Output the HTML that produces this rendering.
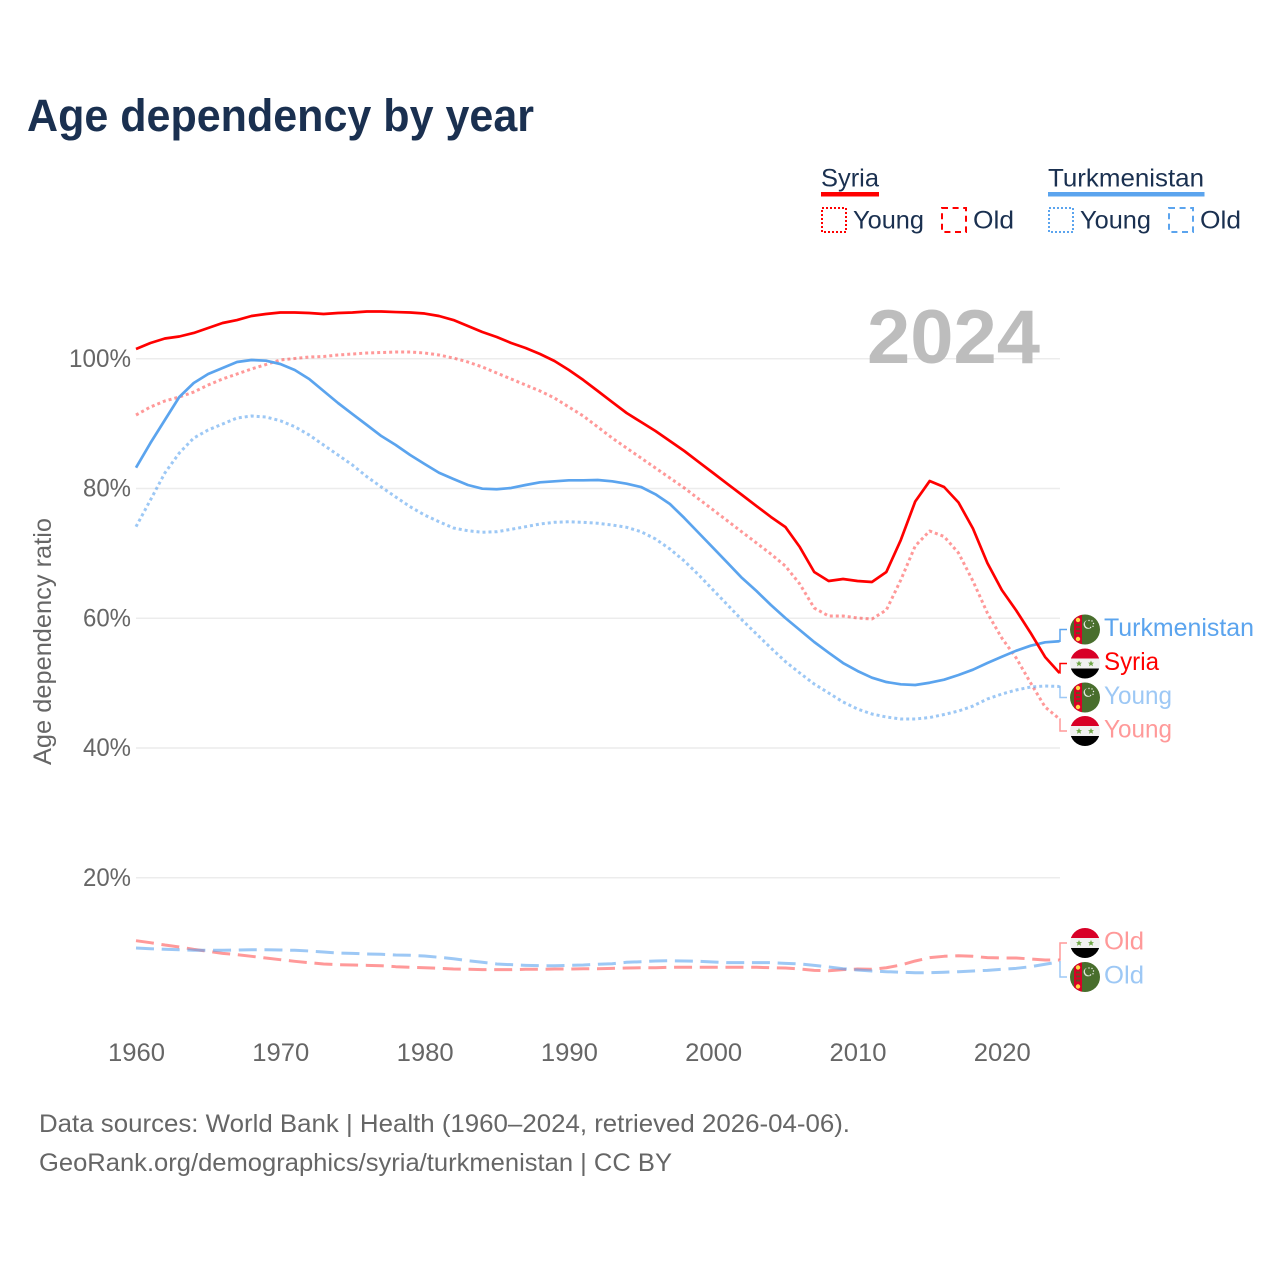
<!DOCTYPE html>
<html lang="en">
<head>
<meta charset="utf-8">
<title>Age dependency by year</title>
<style>
html,body{margin:0;padding:0;background:#fff;}
svg{display:block;font-family:"Liberation Sans",sans-serif;}
</style>
</head>
<body>
<svg id="chart" xmlns="http://www.w3.org/2000/svg" width="1280" height="1280" viewBox="0 0 1280 1280">
<defs>
  <clipPath id="flag-clip"><circle cx="0" cy="0" r="15"/></clipPath>
  <g id="flag-syria" clip-path="url(#flag-clip)">
    <rect x="-15" y="-15" width="30" height="10" fill="#d80027"/>
    <rect x="-15" y="-5" width="30" height="10" fill="#f0f0f0"/>
    <rect x="-15" y="5" width="30" height="10" fill="#000"/>
    <polygon points="-6,-3 -5.1,-0.9 -3,-0.9 -4.6,0.5 -4,2.8 -6,1.5 -8,2.8 -7.4,0.5 -9,-0.9 -6.9,-0.9" fill="#6da544"/>
    <polygon points="6,-3 6.9,-0.9 9,-0.9 7.4,0.5 8,2.8 6,1.5 4,2.8 4.6,0.5 3,-0.9 5.1,-0.9" fill="#6da544"/>
  </g>
  <g id="flag-turkmenistan" clip-path="url(#flag-clip)">
    <rect x="-15" y="-15" width="30" height="30" fill="#496e2d"/>
    <rect x="-11" y="-15" width="8" height="30" fill="#d80027"/>
    <circle cx="-7" cy="-9.5" r="2.2" fill="#ffda44"/>
    <rect x="-9" y="-5.5" width="4" height="2" fill="#6b4a20"/>
    <rect x="-9" y="-1.5" width="4" height="2" fill="#6b4a20"/>
    <rect x="-9" y="2.5" width="4" height="2" fill="#6b4a20"/>
    <circle cx="-7" cy="9.5" r="2.2" fill="#ffda44"/>
    <circle cx="3" cy="-5" r="4.4" fill="#dfe6d8"/>
    <circle cx="4" cy="-5.6" r="4.1" fill="#496e2d"/>
    <circle cx="4" cy="-9" r="0.7" fill="#f0f0f0"/>
    <circle cx="7" cy="-8.5" r="0.7" fill="#f0f0f0"/>
    <circle cx="8.5" cy="-6" r="0.7" fill="#f0f0f0"/>
    <circle cx="8" cy="-3.2" r="0.7" fill="#f0f0f0"/>
    <circle cx="5.5" cy="-2" r="0.7" fill="#f0f0f0"/>
  </g>
</defs>

<text x="27" y="131" font-size="45" font-weight="700" fill="#1a3050" textLength="507" lengthAdjust="spacingAndGlyphs">Age dependency by year</text>

<g font-size="25" fill="#1a3050">
  <g>
    <text x="821" y="186.5" textLength="58" lengthAdjust="spacingAndGlyphs">Syria</text>
    <rect x="821" y="192" width="58" height="4.5" fill="#ff0000"/>
    <rect x="822" y="208" width="24" height="24" fill="none" stroke="#ff0000" stroke-width="2" stroke-dasharray="2 2"/>
    <text x="853" y="228.5" textLength="71" lengthAdjust="spacingAndGlyphs">Young</text>
    <rect x="942" y="208" width="24" height="24" fill="none" stroke="#ff0000" stroke-width="2" stroke-dasharray="6 4.6"/>
    <text x="973" y="228.5" textLength="41" lengthAdjust="spacingAndGlyphs">Old</text>
  </g>
  <g>
    <text x="1048" y="186.5" textLength="156" lengthAdjust="spacingAndGlyphs">Turkmenistan</text>
    <rect x="1048" y="192" width="156.5" height="4.5" fill="#5ba4ee"/>
    <rect x="1049" y="208" width="24" height="24" fill="none" stroke="#5ba4ee" stroke-width="2" stroke-dasharray="2 2"/>
    <text x="1080" y="228.5" textLength="71" lengthAdjust="spacingAndGlyphs">Young</text>
    <rect x="1169" y="208" width="24" height="24" fill="none" stroke="#5ba4ee" stroke-width="2" stroke-dasharray="6 4.6"/>
    <text x="1200" y="228.5" textLength="41" lengthAdjust="spacingAndGlyphs">Old</text>
  </g>
</g>

<g id="grid"></g>
<g id="yticks" font-size="25" fill="#666"></g>
<g id="xticks" font-size="25" fill="#666"></g>
<text transform="translate(51,641.5) rotate(-90)" text-anchor="middle" font-size="25" fill="#666" textLength="247" lengthAdjust="spacingAndGlyphs">Age dependency ratio</text>
<text x="867" y="363" font-size="76" font-weight="700" fill="#bdbdbd" textLength="173" lengthAdjust="spacingAndGlyphs">2024</text>
<g id="series"></g>
<g id="labels" font-size="25"></g>

<text x="39" y="1132" font-size="25" fill="#666" textLength="811" lengthAdjust="spacingAndGlyphs">Data sources: World Bank | Health (1960–2024, retrieved 2026-04-06).</text>
<text x="39" y="1171" font-size="25" fill="#666" textLength="633" lengthAdjust="spacingAndGlyphs">GeoRank.org/demographics/syria/turkmenistan | CC BY</text>
</svg>

<script>
var startYear = 1960;
var xTickLabels = [1960, 1970, 1980, 1990, 2000, 2010, 2020];
var yTickLabels = [20, 40, 60, 80, 100];

var syriaTotal = [
101.50,102.43,103.12,103.43,103.97,104.74,105.51,105.97,106.59,106.90,
107.13,107.13,107.05,106.90,107.05,107.13,107.28,107.28,107.20,107.13,
106.97,106.59,105.97,105.05,104.12,103.35,102.43,101.66,100.73,99.65,
98.26,96.72,95.03,93.33,91.64,90.25,88.86,87.32,85.78,84.08,
82.39,80.69,79.00,77.30,75.61,74.07,70.98,67.13,65.74,66.05,
65.74,65.59,67.13,72.06,78.00,81.15,80.23,77.84,73.83,68.52,
64.35,61.19,57.73,54.03,51.56];

var syriaYoung = [
91.33,92.56,93.49,94.10,94.87,95.95,96.88,97.65,98.42,99.11,
99.81,100.04,100.27,100.35,100.58,100.73,100.89,100.96,101.04,101.04,
100.89,100.58,100.11,99.50,98.73,97.80,96.88,95.95,95.03,93.95,
92.56,91.17,89.48,87.78,86.24,84.70,83.16,81.62,80.08,78.38,
76.69,74.99,73.29,71.60,69.90,68.05,65.28,61.58,60.35,60.35,
60.04,59.88,61.27,65.90,71.14,73.45,72.60,70.06,65.74,60.81,
56.95,53.87,50.02,46.32,44.47];

var syriaOld = [
10.30,9.99,9.63,9.33,8.97,8.66,8.35,8.14,7.89,7.63,
7.37,7.12,6.91,6.71,6.60,6.55,6.50,6.44,6.29,6.20,
6.13,6.04,5.93,5.89,5.83,5.83,5.83,5.89,5.89,5.93,
5.93,5.98,5.98,6.04,6.09,6.13,6.13,6.20,6.20,6.20,
6.20,6.20,6.20,6.20,6.13,6.09,5.93,5.73,5.67,5.83,
5.93,5.89,6.13,6.55,7.17,7.68,7.89,7.98,7.89,7.68,
7.63,7.63,7.48,7.32,7.32];

var turkmenistanTotal = [
83.21,87.01,90.56,94.10,96.26,97.65,98.57,99.50,99.81,99.70,
99.19,98.26,96.88,95.03,93.18,91.48,89.79,88.09,86.70,85.16,
83.78,82.43,81.46,80.54,79.97,79.88,80.08,80.54,80.95,81.11,
81.26,81.26,81.31,81.11,80.74,80.23,79.11,77.61,75.45,73.14,
70.83,68.52,66.20,64.20,62.04,60.04,58.19,56.34,54.69,53.10,
51.87,50.84,50.17,49.82,49.71,50.06,50.53,51.25,52.07,53.10,
54.07,55.00,55.77,56.29,56.45];

var turkmenistanYoung = [
74.11,78.23,82.39,85.47,87.78,89.02,89.94,90.87,91.17,91.02,
90.45,89.53,88.25,86.70,85.16,83.62,81.82,80.23,78.69,77.19,
75.91,74.88,73.91,73.49,73.25,73.34,73.71,74.11,74.53,74.79,
74.88,74.79,74.64,74.37,74.02,73.34,72.22,70.67,68.82,66.67,
64.35,62.04,59.73,57.57,55.41,53.33,51.56,49.86,48.48,47.09,
46.01,45.24,44.78,44.47,44.47,44.70,45.16,45.70,46.47,47.55,
48.32,48.94,49.40,49.56,49.48];

var turkmenistanOld = [
9.17,9.06,8.97,8.91,8.82,8.82,8.82,8.86,8.91,8.91,
8.86,8.82,8.71,8.55,8.40,8.35,8.25,8.20,8.09,8.05,
7.94,7.74,7.52,7.21,6.97,6.71,6.60,6.50,6.44,6.44,
6.50,6.55,6.66,6.75,6.97,7.06,7.17,7.21,7.17,7.12,
7.01,6.91,6.91,6.91,6.91,6.81,6.71,6.50,6.24,5.98,
5.78,5.63,5.52,5.43,5.36,5.36,5.43,5.52,5.63,5.73,
5.89,6.04,6.29,6.66,7.06];

var NS = 'http://www.w3.org/2000/svg';

function xScale(year) { return 136 + (year - startYear) * 14.43; }
function yScale(value) { return 1007.5 - value * 6.4875; }

function make(tag, attrs, parent) {
  var el = document.createElementNS(NS, tag);
  for (var k in attrs) { el.setAttribute(k, attrs[k]); }
  parent.appendChild(el);
  return el;
}

var gridGroup = document.getElementById('grid');
var yTickGroup = document.getElementById('yticks');
var xTickGroup = document.getElementById('xticks');
var seriesGroup = document.getElementById('series');
var labelGroup = document.getElementById('labels');

yTickLabels.forEach(function (v) {
  var line = make('line', { x1: 136, x2: 1060, y1: yScale(v), y2: yScale(v), stroke: '#ececec', 'stroke-width': 1.5 }, gridGroup);
  
  
  var txt = make('text', { x: 131, y: yScale(v) + 8, 'text-anchor': 'end', textLength: v === 100 ? 62 : 48, lengthAdjust: 'spacingAndGlyphs' }, yTickGroup);
  
  
  txt.textContent = v + '%';
});

xTickLabels.forEach(function (yr) {
  var txt = make('text', { x: xScale(yr) + 0.5, y: 1061, 'text-anchor': 'middle', textLength: 57, lengthAdjust: 'spacingAndGlyphs' }, xTickGroup);
  
  
  txt.textContent = yr;
});

function drawSeries(values, name, color, opacity, dash) {
  var pts = values.map(function (v, i) {
    return xScale(startYear + i).toFixed(2) + ',' + yScale(v).toFixed(2);
  }).join(' ');
  var line = make('polyline', { points: pts, fill: 'none', stroke: color, 'stroke-opacity': opacity, 'stroke-width': dash ? 3 : 2.7, 'stroke-linejoin': 'round' }, seriesGroup);
  if (dash) { line.setAttribute('stroke-dasharray', dash); }
  
  
}

var RED = '#ff0000';
var BLUE = '#5ba4ee';

drawSeries(syriaOld, 'line-syria-old', RED, 0.4, '18 7.7');
drawSeries(turkmenistanOld, 'line-turkmenistan-old', BLUE, 0.6, '18 7.7');
drawSeries(syriaYoung, 'line-syria-young', RED, 0.4, '3 3');
drawSeries(turkmenistanYoung, 'line-turkmenistan-young', BLUE, 0.6, '3 3');
drawSeries(turkmenistanTotal, 'line-turkmenistan-total', BLUE, 1, null);
drawSeries(syriaTotal, 'line-syria-total', RED, 1, null);

function drawEndLabel(values, labelY, text, flag, color, opacity, width, name) {
  var endX = xScale(startYear + values.length - 1);
  var endY = yScale(values[values.length - 1]);
  var conn = make('polyline', {
    points: endX + ',' + endY + ' 1060,' + endY + ' 1060,' + labelY + ' 1067,' + labelY,
    fill: 'none', stroke: color, 'stroke-opacity': opacity, 'stroke-width': 1.5
  }, labelGroup);
  
  
  var icon = make('use', { href: '#flag-' + flag, x: 1085, y: labelY }, labelGroup);
  
  
  var txt = make('text', { x: 1104, y: labelY + 6.5, fill: color, 'fill-opacity': opacity, textLength: width, lengthAdjust: 'spacingAndGlyphs' }, labelGroup);
  
  
  txt.textContent = text;
}

drawEndLabel(turkmenistanTotal, 629.5, 'Turkmenistan', 'turkmenistan', BLUE, 1, 150, 'turkmenistan-total');
drawEndLabel(syriaTotal, 663.5, 'Syria', 'syria', RED, 1, 55, 'syria-total');
drawEndLabel(turkmenistanYoung, 697.5, 'Young', 'turkmenistan', BLUE, 0.6, 68, 'turkmenistan-young');
drawEndLabel(syriaYoung, 731, 'Young', 'syria', RED, 0.4, 68, 'syria-young');
drawEndLabel(syriaOld, 943, 'Old', 'syria', RED, 0.4, 40, 'syria-old');
drawEndLabel(turkmenistanOld, 977, 'Old', 'turkmenistan', BLUE, 0.6, 40, 'turkmenistan-old');
</script>
</body>
</html>
